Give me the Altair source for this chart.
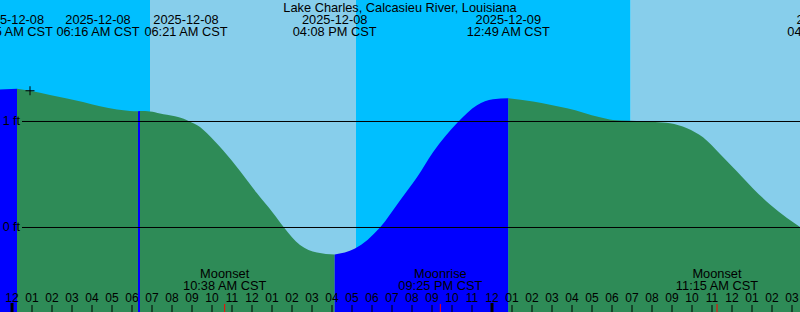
import altair as alt
import pandas as pd

FONT = "Liberation Sans"
TITLE = "Lake Charles, Calcasieu River, Louisiana"

# ---- tide curve ----
tide_times = [
    "2025-12-07T23:24", "2025-12-08T00:15", "2025-12-08T00:54", "2025-12-08T01:54",
    "2025-12-08T02:45", "2025-12-08T03:33", "2025-12-08T04:24", "2025-12-08T05:15",
    "2025-12-08T05:54", "2025-12-08T06:18", "2025-12-08T06:24", "2025-12-08T06:54",
    "2025-12-08T07:24", "2025-12-08T07:45", "2025-12-08T08:33", "2025-12-08T08:51",
    "2025-12-08T09:24", "2025-12-08T09:45", "2025-12-08T10:33", "2025-12-08T11:24",
    "2025-12-08T12:15", "2025-12-08T13:03", "2025-12-08T13:36", "2025-12-08T14:24",
    "2025-12-08T15:15", "2025-12-08T16:08", "2025-12-08T17:09", "2025-12-08T18:24",
    "2025-12-08T19:24", "2025-12-08T20:15", "2025-12-08T21:03", "2025-12-08T22:18",
    "2025-12-08T23:15", "2025-12-09T00:03", "2025-12-09T00:49", "2025-12-09T02:03",
    "2025-12-09T02:54", "2025-12-09T03:45", "2025-12-09T05:24", "2025-12-09T06:03",
    "2025-12-09T06:54", "2025-12-09T08:09", "2025-12-09T08:54", "2025-12-09T09:45",
    "2025-12-09T10:33", "2025-12-09T11:24", "2025-12-09T12:15", "2025-12-09T13:03",
    "2025-12-09T13:54", "2025-12-09T14:45", "2025-12-09T15:24",
]
tide_ft = [
    1.303, 1.308, 1.290, 1.249,
    1.218, 1.185, 1.145, 1.114,
    1.100, 1.096, 1.098, 1.095,
    1.076, 1.064, 1.028, 1.003,
    0.949, 0.889, 0.728, 0.533,
    0.322, 0.137, 0.000, -0.165,
    -0.236, -0.255, -0.199, 0.000,
    0.255, 0.473, 0.710, 0.996,
    1.154, 1.211, 1.220, 1.189,
    1.159, 1.126, 1.041, 1.015,
    1.006, 0.996, 0.984, 0.937,
    0.851, 0.693, 0.528, 0.368,
    0.217, 0.090, 0.005,
]
# tide extremes (high, low, high, low, high) splitting rising / falling
extreme_times = ["2025-12-08T00:15", "2025-12-08T06:18", "2025-12-08T06:24",
                 "2025-12-08T16:08", "2025-12-09T00:49"]

# ---- sky (day / night) ----
sky_start = ["2025-12-07T23:24", "2025-12-08T06:54", "2025-12-08T17:12", "2025-12-09T06:56"]
sky_end = ["2025-12-08T06:54", "2025-12-08T17:12", "2025-12-09T06:56", "2025-12-09T15:24"]
sky_kind = ["night", "day", "night", "day"]

# ---- event labels at top ----
event_anchor = ["2025-12-07T23:58", "2025-12-08T04:18", "2025-12-08T08:42",
                "2025-12-08T16:08", "2025-12-09T00:49", "2025-12-09T16:52"]
event_date = ["2025-12-08", "2025-12-08", "2025-12-08", "2025-12-08", "2025-12-09", "2025-12-09"]
event_clock = ["12:15 AM CST", "06:16 AM CST", "06:21 AM CST", "04:08 PM CST",
               "12:49 AM CST", "04:52 PM CST"]

# ---- moon events ----
moon_times = ["2025-12-08T10:38", "2025-12-08T21:25", "2025-12-09T11:15"]
moon_names = ["Moonset", "Moonrise", "Moonset"]
moon_clock = ["10:38 AM CST", "09:25 PM CST", "11:15 AM CST"]

# ---- hour ticks along the bottom ----
hour_ticks = [t.strftime("%Y-%m-%dT%H:%M")
              for t in pd.date_range("2025-12-08 00:00", "2025-12-09 15:00", freq="h")]
midnights = ["2025-12-08T00:00", "2025-12-09T00:00"]

ft_levels = [0, 1]
ft_labels = ["0 ft", "1 ft"]
now_time = ["2025-12-08T00:54"]
now_ft = [1.29]

# ---- build tables ----
rows = []
bounds = [tide_times[0]] + extreme_times + [tide_times[-1]]
for k in range(len(bounds) - 1):
    lo, hi = bounds[k], bounds[k + 1]
    d = "rising" if k % 2 == 0 else "falling"
    for t, v in zip(tide_times, tide_ft):
        if lo <= t <= hi:
            rows.append({"time": t, "ft": v, "seg": k, "dir": d})
tide_df = pd.DataFrame(rows)
sky_df = pd.DataFrame({"start": sky_start, "end": sky_end, "kind": sky_kind})
event_df = pd.DataFrame({"t": event_anchor, "date": event_date, "clock": event_clock})
moon_df = pd.DataFrame({"t": moon_times, "name": moon_names, "clock": moon_clock})
hour_df = pd.DataFrame({"t": hour_ticks})
mid_df = pd.DataFrame({"t": midnights})
ft_df = pd.DataFrame({"ft": ft_levels, "label": ft_labels})
now_df = pd.DataFrame({"t": now_time, "ft": now_ft})

xscale = alt.Scale(domain=[alt.DateTime(year=2025, month=12, date=7, hours=23, minutes=24),
                           alt.DateTime(year=2025, month=12, date=9, hours=15, minutes=24)])
yscale = alt.Scale(domain=[-0.7972, 2.1462], nice=False, zero=False)


def X(field):
    return alt.X(field, scale=xscale, axis=None)


def Y(field):
    return alt.Y(field, scale=yscale, axis=None, stack=None)


def txt(size=12.8, **kw):
    return dict(font=FONT, fontSize=size, baseline="alphabetic", color="black", **kw)


sky = alt.Chart(sky_df).mark_rect().encode(
    x=X("start:T"), x2="end:T",
    color=alt.Color("kind:N", scale=alt.Scale(domain=["night", "day"],
                                              range=["#00BFFF", "#87CEEB"]), legend=None),
)

tide = alt.Chart(tide_df).mark_area(interpolate="monotone").encode(
    x=X("time:T"),
    y=Y("ft:Q"),
    y2=alt.value(312),
    color=alt.Color("dir:N", scale=alt.Scale(domain=["rising", "falling"],
                                             range=["#0000FF", "#2E8B57"]), legend=None),
    detail="seg:N",
)

ft_lines = alt.Chart(ft_df).mark_rule(color="black", strokeWidth=1).encode(
    y=Y("ft:Q"), x=alt.value(22), x2=alt.value(800))

ft_text = alt.Chart(ft_df).mark_text(**txt(size=12.5, align="right", dy=4)).encode(
    y=Y("ft:Q"), x=alt.value(20), text="label:N")

now_mark = alt.Chart(now_df).mark_point(shape="M-1,0H1M0,-1V1", size=81, filled=False,
                                        stroke="black", strokeWidth=1, opacity=1).encode(
    x=X("t:T"), y=Y("ft:Q"))

title = alt.Chart(pd.DataFrame({"title": [TITLE]})).mark_text(**txt(align="center")).encode(
    x=alt.value(400), y=alt.value(12), text="title:N")

ev_date = alt.Chart(event_df).mark_text(**txt(align="center")).encode(
    x=X("t:T"), y=alt.value(24), text="date:N")
ev_clock = alt.Chart(event_df).mark_text(**txt(align="center")).encode(
    x=X("t:T"), y=alt.value(36), text="clock:N")

moon_name = alt.Chart(moon_df).mark_text(**txt(align="center")).encode(
    x=X("t:T"), y=alt.value(278), text="name:N")
moon_time = alt.Chart(moon_df).mark_text(**txt(align="center")).encode(
    x=X("t:T"), y=alt.value(290), text="clock:N")

hour_rules = alt.Chart(hour_df).mark_rule(color="black", strokeWidth=1).encode(
    x=X("t:T"), y=alt.value(305), y2=alt.value(312))
hour_text = alt.Chart(hour_df).mark_text(**txt(size=12, align="center")).encode(
    x=X("t:T"), y=alt.value(302), text=alt.Text("t:T", format="%I"))

moon_ticks = alt.Chart(moon_df).mark_rule(color="red", strokeWidth=1).encode(
    x=X("t:T"), y=alt.value(304), y2=alt.value(312))
mid_ticks = alt.Chart(mid_df).mark_rule(color="black", strokeWidth=3).encode(
    x=X("t:T"), y=alt.value(303), y2=alt.value(312))

chart = alt.layer(
    sky, tide, ft_lines, ft_text, title, ev_date, ev_clock, moon_name, moon_time,
    hour_rules, hour_text, moon_ticks, mid_ticks, now_mark,
).resolve_scale(color="independent").properties(
    width=800, height=312, padding=0,
    autosize=alt.AutoSizeParams(type="none"),
).configure_view(stroke=None)

chart.save("out.html", embed_options={"renderer": "svg", "actions": False})
